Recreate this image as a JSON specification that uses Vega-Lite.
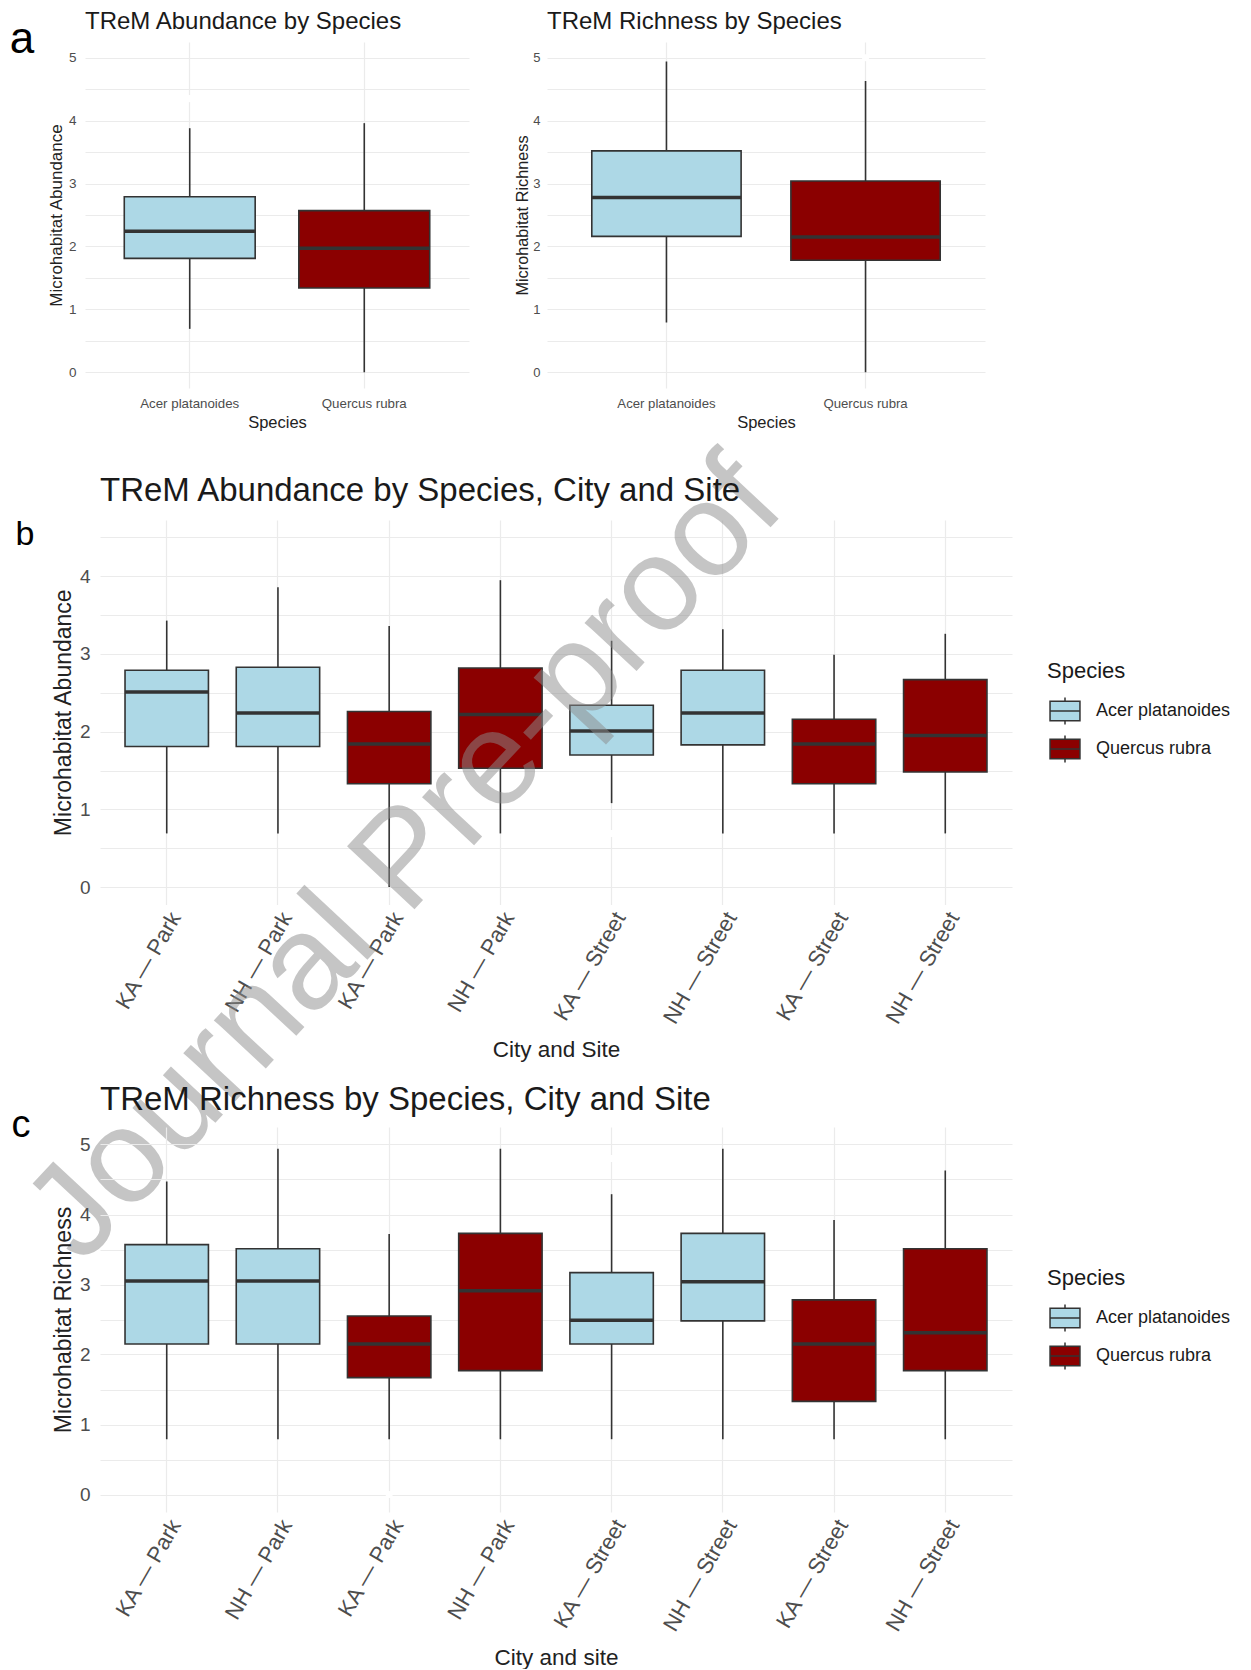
{
  "$schema": "https://vega.github.io/schema/vega-lite/v6.json",
  "background": "#ffffff",
  "padding": {"left": 0, "top": 10, "right": 0, "bottom": 0},
  "config": {
    "font": "Liberation Sans",
    "view": {"stroke": null},
    "axis": {"domain": false, "ticks": false, "gridColor": "#ebebeb", "gridWidth": 1.2, "labelColor": "#4d4d4d", "titleColor": "#222222", "titleFontWeight": "normal"},
    "title": {"anchor": "start", "frame": "group", "fontWeight": "normal", "color": "#1a1a1a"},
    "legend": {"titleFontWeight": "normal"}
  },
  "datasets": {
    "aAbund": [
      {"species": "Acer platanoides", "min": 0.69, "q1": 1.81, "median": 2.24, "q3": 2.79, "max": 3.88},
      {"species": "Quercus rubra", "min": 0.0, "q1": 1.34, "median": 1.97, "q3": 2.57, "max": 3.96}
    ],
    "aAbundOut": [{"species": "Acer platanoides", "v": 4.35}],
    "aRich": [
      {"species": "Acer platanoides", "min": 0.79, "q1": 2.16, "median": 2.78, "q3": 3.52, "max": 4.94},
      {"species": "Quercus rubra", "min": 0.0, "q1": 1.78, "median": 2.15, "q3": 3.04, "max": 4.63}
    ],
    "aRichOut": [{"species": "Quercus rubra", "v": 5.0}],
    "bStats": [
      {"grp": "KA — Park|A", "species": "Acer platanoides", "min": 0.69, "q1": 1.81, "median": 2.51, "q3": 2.79, "max": 3.43},
      {"grp": "NH — Park|A", "species": "Acer platanoides", "min": 0.69, "q1": 1.81, "median": 2.24, "q3": 2.83, "max": 3.86},
      {"grp": "KA — Park|Q", "species": "Quercus rubra", "min": 0.0, "q1": 1.33, "median": 1.84, "q3": 2.26, "max": 3.36},
      {"grp": "NH — Park|Q", "species": "Quercus rubra", "min": 0.69, "q1": 1.53, "median": 2.22, "q3": 2.82, "max": 3.95},
      {"grp": "KA — Street|A", "species": "Acer platanoides", "min": 1.08, "q1": 1.70, "median": 2.01, "q3": 2.34, "max": 3.17},
      {"grp": "NH — Street|A", "species": "Acer platanoides", "min": 0.69, "q1": 1.83, "median": 2.24, "q3": 2.79, "max": 3.32},
      {"grp": "KA — Street|Q", "species": "Quercus rubra", "min": 0.69, "q1": 1.33, "median": 1.84, "q3": 2.16, "max": 2.99},
      {"grp": "NH — Street|Q", "species": "Quercus rubra", "min": 0.69, "q1": 1.48, "median": 1.95, "q3": 2.67, "max": 3.26}
    ],
    "bOut": [{"grp": "KA — Street|A", "v": 0.69}],
    "cStats": [
      {"grp": "KA — Park|A", "species": "Acer platanoides", "min": 0.79, "q1": 2.15, "median": 3.05, "q3": 3.57, "max": 4.47},
      {"grp": "NH — Park|A", "species": "Acer platanoides", "min": 0.79, "q1": 2.15, "median": 3.05, "q3": 3.51, "max": 4.94},
      {"grp": "KA — Park|Q", "species": "Quercus rubra", "min": 0.79, "q1": 1.67, "median": 2.15, "q3": 2.55, "max": 3.72},
      {"grp": "NH — Park|Q", "species": "Quercus rubra", "min": 0.79, "q1": 1.77, "median": 2.91, "q3": 3.73, "max": 4.94},
      {"grp": "KA — Street|A", "species": "Acer platanoides", "min": 0.79, "q1": 2.15, "median": 2.49, "q3": 3.17, "max": 4.29},
      {"grp": "NH — Street|A", "species": "Acer platanoides", "min": 0.79, "q1": 2.48, "median": 3.04, "q3": 3.73, "max": 4.94},
      {"grp": "KA — Street|Q", "species": "Quercus rubra", "min": 0.79, "q1": 1.33, "median": 2.15, "q3": 2.78, "max": 3.92},
      {"grp": "NH — Street|Q", "species": "Quercus rubra", "min": 0.79, "q1": 1.77, "median": 2.31, "q3": 3.51, "max": 4.63}
    ],
    "cOut": [{"grp": "KA — Park|Q", "v": 0.0}, {"grp": "KA — Street|A", "v": 4.8}],
    "mark": [{"grp": "KA — Park|Q", "v": 0.12, "t": "Journal Pre-proof"}]
  },
  "columns": 3,
  "bounds": "flush",
  "align": {"row": "each", "column": "none"},
  "spacing": {"row": 132, "column": 77},
  "resolve": {"scale": {"fill": "independent", "x": "independent", "y": "independent"}, "legend": {"fill": "independent"}},
  "concat": [
    {
      "spacing": 3,
      "resolve": {"scale": {"fill": "independent", "x": "independent", "y": "independent"}, "legend": {"fill": "independent"}},
      "hconcat": [
        {
          "width": 44, "height": 22,
          "data": {"values": [{"t": "a"}]},
          "mark": {"type": "text", "fontSize": 44, "baseline": "alphabetic", "align": "center", "color": "#000000"},
          "encoding": {"text": {"field": "t", "type": "nominal"}}
        },
        {
          "spacing": 45,
          "resolve": {"scale": {"fill": "independent", "x": "independent", "y": "independent"}, "legend": {"fill": "independent"}},
          "hconcat": [
            {
              "width": 384, "height": 346,
              "title": {"text": "TReM Abundance by Species", "fontSize": 24, "offset": 8},
              "data": {"name": "aAbund"},
              "encoding": {"x": {"field": "species", "type": "nominal", "scale": {"domain": ["Acer platanoides", "Quercus rubra"], "paddingInner": 0.25, "paddingOuter": 0.225}, "axis": {"title": "Species", "labelAngle": 0, "labelFontSize": 13.3, "labelPadding": 8, "titleFontSize": 16.5, "titlePadding": 5, "grid": true, "bandPosition": 0.5}}},
              "layer": [
                {"mark": {"type": "rule", "color": "#333333", "strokeWidth": 1.6},
                 "encoding": {"y": {"field": "min", "type": "quantitative", "title": "Microhabitat Abundance", "scale": {"domain": [-0.25, 5.25], "nice": false, "zero": false}, "axis": {"title": "Microhabitat Abundance", "values": [0, 0.5, 1, 1.5, 2, 2.5, 3, 3.5, 4, 4.5, 5], "labelExpr": "datum.value % 1 === 0 ? format(datum.value, 'd') : ''", "labelFontSize": 13.5, "labelPadding": 9, "titleFontSize": 17, "titlePadding": 3, "grid": true}}, "y2": {"field": "max"}}},
                {"mark": {"type": "bar", "stroke": "#333333", "strokeWidth": 1.6},
                 "encoding": {"y": {"field": "q1", "type": "quantitative", "title": "Microhabitat Abundance", "scale": {"domain": [-0.25, 5.25], "nice": false, "zero": false}, "axis": {"title": "Microhabitat Abundance", "values": [0, 0.5, 1, 1.5, 2, 2.5, 3, 3.5, 4, 4.5, 5], "labelExpr": "datum.value % 1 === 0 ? format(datum.value, 'd') : ''", "labelFontSize": 13.5, "labelPadding": 9, "titleFontSize": 17, "titlePadding": 3, "grid": true}}, "y2": {"field": "q3"},
                  "fill": {"field": "species", "type": "nominal", "scale": {"domain": ["Acer platanoides", "Quercus rubra"], "range": ["#ADD8E6", "#8B0000"]}, "legend": null}}},
                {"mark": {"type": "tick", "color": "#333333", "thickness": 3.5, "opacity": 1},
                 "encoding": {"y": {"field": "median", "type": "quantitative", "title": "Microhabitat Abundance", "scale": {"domain": [-0.25, 5.25], "nice": false, "zero": false}, "axis": {"title": "Microhabitat Abundance", "values": [0, 0.5, 1, 1.5, 2, 2.5, 3, 3.5, 4, 4.5, 5], "labelExpr": "datum.value % 1 === 0 ? format(datum.value, 'd') : ''", "labelFontSize": 13.5, "labelPadding": 9, "titleFontSize": 17, "titlePadding": 3, "grid": true}}}},
                {"data": {"name": "aAbundOut"}, "mark": {"type": "point", "filled": true, "color": "#ffffff", "opacity": 1, "size": 50},
                 "encoding": {"y": {"field": "v", "type": "quantitative", "title": "Microhabitat Abundance", "scale": {"domain": [-0.25, 5.25], "nice": false, "zero": false}, "axis": {"title": "Microhabitat Abundance", "values": [0, 0.5, 1, 1.5, 2, 2.5, 3, 3.5, 4, 4.5, 5], "labelExpr": "datum.value % 1 === 0 ? format(datum.value, 'd') : ''", "labelFontSize": 13.5, "labelPadding": 9, "titleFontSize": 17, "titlePadding": 3, "grid": true}}}}
              ]
            },
            {
              "width": 438, "height": 346,
              "title": {"text": "TReM Richness by Species", "fontSize": 24, "offset": 8},
              "data": {"name": "aRich"},
              "encoding": {"x": {"field": "species", "type": "nominal", "scale": {"domain": ["Acer platanoides", "Quercus rubra"], "paddingInner": 0.25, "paddingOuter": 0.225}, "axis": {"title": "Species", "labelAngle": 0, "labelFontSize": 13.2, "labelPadding": 9, "titleFontSize": 16.5, "titlePadding": 5, "grid": true, "bandPosition": 0.5}}},
              "layer": [
                {"mark": {"type": "rule", "color": "#333333", "strokeWidth": 1.6},
                 "encoding": {"y": {"field": "min", "type": "quantitative", "title": "Microhabitat Richness", "scale": {"domain": [-0.25, 5.25], "nice": false, "zero": false}, "axis": {"title": "Microhabitat Richness", "values": [0, 0.5, 1, 1.5, 2, 2.5, 3, 3.5, 4, 4.5, 5], "labelExpr": "datum.value % 1 === 0 ? format(datum.value, 'd') : ''", "labelFontSize": 13, "labelPadding": 7, "titleFontSize": 16.3, "titlePadding": 2, "grid": true}}, "y2": {"field": "max"}}},
                {"mark": {"type": "bar", "stroke": "#333333", "strokeWidth": 1.6},
                 "encoding": {"y": {"field": "q1", "type": "quantitative", "title": "Microhabitat Richness", "scale": {"domain": [-0.25, 5.25], "nice": false, "zero": false}, "axis": {"title": "Microhabitat Richness", "values": [0, 0.5, 1, 1.5, 2, 2.5, 3, 3.5, 4, 4.5, 5], "labelExpr": "datum.value % 1 === 0 ? format(datum.value, 'd') : ''", "labelFontSize": 13, "labelPadding": 7, "titleFontSize": 16.3, "titlePadding": 2, "grid": true}}, "y2": {"field": "q3"},
                  "fill": {"field": "species", "type": "nominal", "scale": {"domain": ["Acer platanoides", "Quercus rubra"], "range": ["#ADD8E6", "#8B0000"]}, "legend": null}}},
                {"mark": {"type": "tick", "color": "#333333", "thickness": 3.5, "opacity": 1},
                 "encoding": {"y": {"field": "median", "type": "quantitative", "title": "Microhabitat Richness", "scale": {"domain": [-0.25, 5.25], "nice": false, "zero": false}, "axis": {"title": "Microhabitat Richness", "values": [0, 0.5, 1, 1.5, 2, 2.5, 3, 3.5, 4, 4.5, 5], "labelExpr": "datum.value % 1 === 0 ? format(datum.value, 'd') : ''", "labelFontSize": 13, "labelPadding": 7, "titleFontSize": 16.3, "titlePadding": 2, "grid": true}}}},
                {"data": {"name": "aRichOut"}, "mark": {"type": "point", "filled": true, "color": "#ffffff", "opacity": 1, "size": 50},
                 "encoding": {"y": {"field": "v", "type": "quantitative", "title": "Microhabitat Richness", "scale": {"domain": [-0.25, 5.25], "nice": false, "zero": false}, "axis": {"title": "Microhabitat Richness", "values": [0, 0.5, 1, 1.5, 2, 2.5, 3, 3.5, 4, 4.5, 5], "labelExpr": "datum.value % 1 === 0 ? format(datum.value, 'd') : ''", "labelFontSize": 13, "labelPadding": 7, "titleFontSize": 16.3, "titlePadding": 2, "grid": true}}}}
              ]
            }
          ]
        }
      ]
    },
    {
      "width": 1, "height": 346,
      "data": {"values": [{"d": 0}]},
      "mark": {"type": "point", "opacity": 0, "size": 1},
      "encoding": {}
    },
    {
      "width": 1, "height": 1,
      "data": {"values": [{"d": 0}]},
      "mark": {"type": "point", "opacity": 0, "size": 1},
      "encoding": {}
    },
    {
      "width": 23, "height": 50,
      "data": {"values": [{"t": "b"}]},
      "mark": {"type": "text", "fontSize": 34, "baseline": "alphabetic", "align": "center", "dx": 13.5, "color": "#000000"},
      "encoding": {"text": {"field": "t", "type": "nominal"}}
    },
    {
      "width": 912, "height": 384.5,
      "title": {"text": "TReM Abundance by Species, City and Site", "fontSize": 33, "offset": -72.5},
      "data": {"name": "bStats"},
      "encoding": {"x": {"field": "grp", "type": "nominal", "scale": {"domain": ["KA — Park|A", "NH — Park|A", "KA — Park|Q", "NH — Park|Q", "KA — Street|A", "NH — Street|A", "KA — Street|Q", "NH — Street|Q"], "paddingInner": 0.25, "paddingOuter": 0.225}, "axis": {"title": "City and Site", "labelExpr": "split(datum.label, '|')[0]", "labelAngle": -60, "labelAlign": "right", "labelBaseline": "top", "labelFontSize": 22, "labelPadding": 4, "labelOverlap": false, "labelBound": false, "titleFontSize": 22.5, "titlePadding": 12, "grid": true, "bandPosition": 0.5}}},
      "layer": [
        {"mark": {"type": "rule", "color": "#333333", "strokeWidth": 1.6},
         "encoding": {"y": {"field": "min", "type": "quantitative", "title": "Microhabitat Abundance", "scale": {"domain": [-0.225, 4.725], "nice": false, "zero": false}, "axis": {"title": "Microhabitat Abundance", "values": [0, 0.5, 1, 1.5, 2, 2.5, 3, 3.5, 4, 4.5], "labelExpr": "datum.value % 1 === 0 ? format(datum.value, 'd') : ''", "labelFontSize": 19, "labelPadding": 10, "titleFontSize": 23, "titlePadding": 4, "grid": true}}, "y2": {"field": "max"}}},
        {"mark": {"type": "bar", "stroke": "#333333", "strokeWidth": 1.6},
         "encoding": {"y": {"field": "q1", "type": "quantitative", "title": "Microhabitat Abundance", "scale": {"domain": [-0.225, 4.725], "nice": false, "zero": false}, "axis": {"title": "Microhabitat Abundance", "values": [0, 0.5, 1, 1.5, 2, 2.5, 3, 3.5, 4, 4.5], "labelExpr": "datum.value % 1 === 0 ? format(datum.value, 'd') : ''", "labelFontSize": 19, "labelPadding": 10, "titleFontSize": 23, "titlePadding": 4, "grid": true}}, "y2": {"field": "q3"},
          "fill": {"field": "species", "type": "nominal", "scale": {"domain": ["Acer platanoides", "Quercus rubra"], "range": ["#ADD8E6", "#8B0000"]},
           "legend": {"orient": "none", "legendX": 947, "legendY": 141, "title": "Species", "titleFontSize": 22, "titleColor": "#1a1a1a", "titlePadding": 10, "titleFontWeight": "normal", "labelFontSize": 18, "labelColor": "#1a1a1a", "labelOffset": 13, "symbolType": "M-0.88,-0.57H0.88V0.57H-0.88Z M-0.88,0H0.88 M0,-0.57V-0.8 M0,0.57V0.8", "symbolSize": 1156, "symbolStrokeColor": "#333333", "symbolStrokeWidth": 1.5, "rowPadding": 3, "padding": 0}}}},
        {"mark": {"type": "tick", "color": "#333333", "thickness": 3.5, "opacity": 1},
         "encoding": {"y": {"field": "median", "type": "quantitative", "title": "Microhabitat Abundance", "scale": {"domain": [-0.225, 4.725], "nice": false, "zero": false}, "axis": {"title": "Microhabitat Abundance", "values": [0, 0.5, 1, 1.5, 2, 2.5, 3, 3.5, 4, 4.5], "labelExpr": "datum.value % 1 === 0 ? format(datum.value, 'd') : ''", "labelFontSize": 19, "labelPadding": 10, "titleFontSize": 23, "titlePadding": 4, "grid": true}}}},
        {"data": {"name": "bOut"}, "mark": {"type": "point", "filled": true, "color": "#ffffff", "opacity": 1, "size": 50},
         "encoding": {"y": {"field": "v", "type": "quantitative", "title": "Microhabitat Abundance", "scale": {"domain": [-0.225, 4.725], "nice": false, "zero": false}, "axis": {"title": "Microhabitat Abundance", "values": [0, 0.5, 1, 1.5, 2, 2.5, 3, 3.5, 4, 4.5], "labelExpr": "datum.value % 1 === 0 ? format(datum.value, 'd') : ''", "labelFontSize": 19, "labelPadding": 10, "titleFontSize": 23, "titlePadding": 4, "grid": true}}}},
        {"data": {"name": "mark"}, "mark": {"type": "text", "fontSize": 134, "angle": 313, "align": "center", "baseline": "middle", "dx": 24, "color": "#8c8c8c", "opacity": 0.5},
         "encoding": {"y": {"field": "v", "type": "quantitative", "title": "Microhabitat Abundance", "scale": {"domain": [-0.225, 4.725], "nice": false, "zero": false}, "axis": {"title": "Microhabitat Abundance", "values": [0, 0.5, 1, 1.5, 2, 2.5, 3, 3.5, 4, 4.5], "labelExpr": "datum.value % 1 === 0 ? format(datum.value, 'd') : ''", "labelFontSize": 19, "labelPadding": 10, "titleFontSize": 23, "titlePadding": 4, "grid": true}}, "text": {"field": "t", "type": "nominal"}}}
      ]
    },
    {
      "width": 1, "height": 475,
      "data": {"values": [{"d": 0}]},
      "mark": {"type": "point", "opacity": 0, "size": 1},
      "encoding": {}
    },
    {
      "width": 23, "height": 20,
      "data": {"values": [{"t": "c"}]},
      "mark": {"type": "text", "fontSize": 38, "baseline": "alphabetic", "align": "center", "dx": 9.5, "color": "#000000"},
      "encoding": {"text": {"field": "t", "type": "nominal"}}
    },
    {
      "width": 912, "height": 385,
      "title": {"text": "TReM Richness by Species, City and Site", "fontSize": 33, "offset": 10},
      "data": {"name": "cStats"},
      "encoding": {"x": {"field": "grp", "type": "nominal", "scale": {"domain": ["KA — Park|A", "NH — Park|A", "KA — Park|Q", "NH — Park|Q", "KA — Street|A", "NH — Street|A", "KA — Street|Q", "NH — Street|Q"], "paddingInner": 0.25, "paddingOuter": 0.225}, "axis": {"title": "City and site", "labelExpr": "split(datum.label, '|')[0]", "labelAngle": -60, "labelAlign": "right", "labelBaseline": "top", "labelFontSize": 22, "labelPadding": 4, "labelOverlap": false, "labelBound": false, "titleFontSize": 22.5, "titlePadding": 12, "grid": true, "bandPosition": 0.5}}},
      "layer": [
        {"mark": {"type": "rule", "color": "#333333", "strokeWidth": 1.6},
         "encoding": {"y": {"field": "min", "type": "quantitative", "title": "Microhabitat Richness", "scale": {"domain": [-0.25, 5.25], "nice": false, "zero": false}, "axis": {"title": "Microhabitat Richness", "values": [0, 0.5, 1, 1.5, 2, 2.5, 3, 3.5, 4, 4.5, 5], "labelExpr": "datum.value % 1 === 0 ? format(datum.value, 'd') : ''", "labelFontSize": 19, "labelPadding": 10, "titleFontSize": 23, "titlePadding": 4, "grid": true}}, "y2": {"field": "max"}}},
        {"mark": {"type": "bar", "stroke": "#333333", "strokeWidth": 1.6},
         "encoding": {"y": {"field": "q1", "type": "quantitative", "title": "Microhabitat Richness", "scale": {"domain": [-0.25, 5.25], "nice": false, "zero": false}, "axis": {"title": "Microhabitat Richness", "values": [0, 0.5, 1, 1.5, 2, 2.5, 3, 3.5, 4, 4.5, 5], "labelExpr": "datum.value % 1 === 0 ? format(datum.value, 'd') : ''", "labelFontSize": 19, "labelPadding": 10, "titleFontSize": 23, "titlePadding": 4, "grid": true}}, "y2": {"field": "q3"},
          "fill": {"field": "species", "type": "nominal", "scale": {"domain": ["Acer platanoides", "Quercus rubra"], "range": ["#ADD8E6", "#8B0000"]},
           "legend": {"orient": "none", "legendX": 947, "legendY": 141, "title": "Species", "titleFontSize": 22, "titleColor": "#1a1a1a", "titlePadding": 10, "titleFontWeight": "normal", "labelFontSize": 18, "labelColor": "#1a1a1a", "labelOffset": 13, "symbolType": "M-0.88,-0.57H0.88V0.57H-0.88Z M-0.88,0H0.88 M0,-0.57V-0.8 M0,0.57V0.8", "symbolSize": 1156, "symbolStrokeColor": "#333333", "symbolStrokeWidth": 1.5, "rowPadding": 3, "padding": 0}}}},
        {"mark": {"type": "tick", "color": "#333333", "thickness": 3.5, "opacity": 1},
         "encoding": {"y": {"field": "median", "type": "quantitative", "title": "Microhabitat Richness", "scale": {"domain": [-0.25, 5.25], "nice": false, "zero": false}, "axis": {"title": "Microhabitat Richness", "values": [0, 0.5, 1, 1.5, 2, 2.5, 3, 3.5, 4, 4.5, 5], "labelExpr": "datum.value % 1 === 0 ? format(datum.value, 'd') : ''", "labelFontSize": 19, "labelPadding": 10, "titleFontSize": 23, "titlePadding": 4, "grid": true}}}},
        {"data": {"name": "cOut"}, "mark": {"type": "point", "filled": true, "color": "#ffffff", "opacity": 1, "size": 50},
         "encoding": {"y": {"field": "v", "type": "quantitative", "title": "Microhabitat Richness", "scale": {"domain": [-0.25, 5.25], "nice": false, "zero": false}, "axis": {"title": "Microhabitat Richness", "values": [0, 0.5, 1, 1.5, 2, 2.5, 3, 3.5, 4, 4.5, 5], "labelExpr": "datum.value % 1 === 0 ? format(datum.value, 'd') : ''", "labelFontSize": 19, "labelPadding": 10, "titleFontSize": 23, "titlePadding": 4, "grid": true}}}}
      ]
    }
  ]
}
